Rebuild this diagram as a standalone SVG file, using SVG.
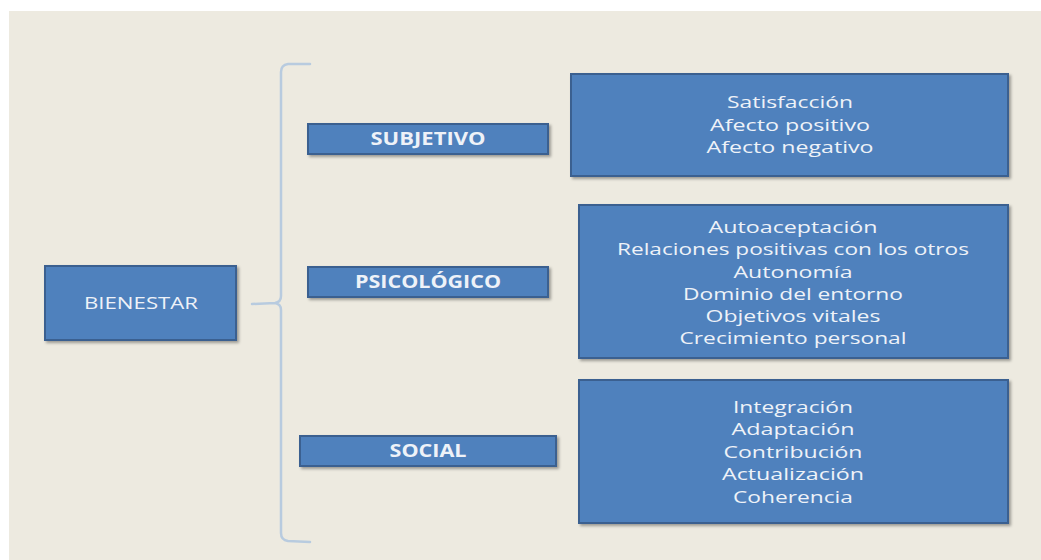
<svg xmlns="http://www.w3.org/2000/svg" width="1041" height="560" viewBox="0 0 1041 560">
  <defs>
    <filter id="shadow" x="-10%" y="-20%" width="120%" height="150%">
      <feGaussianBlur in="SourceAlpha" stdDeviation="1.5"/>
      <feOffset dx="2" dy="2" result="b"/>
      <feComponentTransfer><feFuncA type="linear" slope="0.35"/></feComponentTransfer>
      <feMerge><feMergeNode/><feMergeNode in="SourceGraphic"/></feMerge>
    </filter>
    <style>
      .box { fill: #4F81BD; stroke: #3A6190; stroke-width: 2; filter: url(#shadow); }
      .lbl { font-family: "Open Sans", "Liberation Sans", sans-serif; font-size: 17px; fill: #EEF2F8; text-anchor: middle; }
      .bold { font-weight: bold; }
      .brace { fill: none; stroke: #B8CBDF; stroke-width: 2.5; stroke-linecap: round; stroke-linejoin: round; }
    </style>
  </defs>

  <!-- page and slide background -->
  <rect x="0" y="0" width="1041" height="560" fill="#FFFFFF"/>
  <rect x="9" y="11" width="1032" height="549" fill="#EDEAE0"/>

  <!-- brace connecting the root to its three branches -->
  <g id="connectors">
    <path class="brace" d="M310,64 L288,64 Q281,65 281,72 L281,296 Q281,302 275,303 L252,304 M275,303 Q281,304 281,310 L281,533 Q281,540 288,541 L310,542"/>
  </g>

  <g id="bienestar">
    <rect class="box" x="45" y="266" width="191" height="74"/>
    <text class="lbl" x="141" y="309" textLength="114" lengthAdjust="spacingAndGlyphs">BIENESTAR</text>
  </g>

  <g id="subjetivo">
    <rect class="box" x="308" y="124" width="240" height="30"/>
    <text class="lbl bold" x="428" y="145" textLength="115" lengthAdjust="spacingAndGlyphs">SUBJETIVO</text>
  </g>

  <g id="psicologico">
    <rect class="box" x="308" y="267" width="240" height="30"/>
    <text class="lbl bold" x="428" y="288" textLength="146" lengthAdjust="spacingAndGlyphs">PSICOLÓGICO</text>
  </g>

  <g id="social">
    <rect class="box" x="300" y="436" width="256" height="30"/>
    <text class="lbl bold" x="428" y="457" textLength="77" lengthAdjust="spacingAndGlyphs">SOCIAL</text>
  </g>

  <g id="subjetivo-items">
    <rect class="box" x="571" y="74" width="437" height="102"/>
    <text class="lbl" x="790" y="108" textLength="126" lengthAdjust="spacingAndGlyphs">Satisfacción</text>
    <text class="lbl" x="790" y="131" textLength="160" lengthAdjust="spacingAndGlyphs">Afecto positivo</text>
    <text class="lbl" x="790" y="153" textLength="167" lengthAdjust="spacingAndGlyphs">Afecto negativo</text>
  </g>

  <g id="psicologico-items">
    <rect class="box" x="579" y="205" width="429" height="153"/>
    <text class="lbl" x="793" y="233" textLength="169" lengthAdjust="spacingAndGlyphs">Autoaceptación</text>
    <text class="lbl" x="793" y="255" textLength="352" lengthAdjust="spacingAndGlyphs">Relaciones positivas con los otros</text>
    <text class="lbl" x="793" y="278" textLength="119" lengthAdjust="spacingAndGlyphs">Autonomía</text>
    <text class="lbl" x="793" y="300" textLength="220" lengthAdjust="spacingAndGlyphs">Dominio del entorno</text>
    <text class="lbl" x="793" y="322" textLength="175" lengthAdjust="spacingAndGlyphs">Objetivos vitales</text>
    <text class="lbl" x="793" y="344" textLength="227" lengthAdjust="spacingAndGlyphs">Crecimiento personal</text>
  </g>

  <g id="social-items">
    <rect class="box" x="579" y="380" width="429" height="143"/>
    <text class="lbl" x="793" y="413" textLength="120" lengthAdjust="spacingAndGlyphs">Integración</text>
    <text class="lbl" x="793" y="435" textLength="123" lengthAdjust="spacingAndGlyphs">Adaptación</text>
    <text class="lbl" x="793" y="458" textLength="139" lengthAdjust="spacingAndGlyphs">Contribución</text>
    <text class="lbl" x="793" y="480" textLength="142" lengthAdjust="spacingAndGlyphs">Actualización</text>
    <text class="lbl" x="793" y="503" textLength="120" lengthAdjust="spacingAndGlyphs">Coherencia</text>
  </g>
</svg>
